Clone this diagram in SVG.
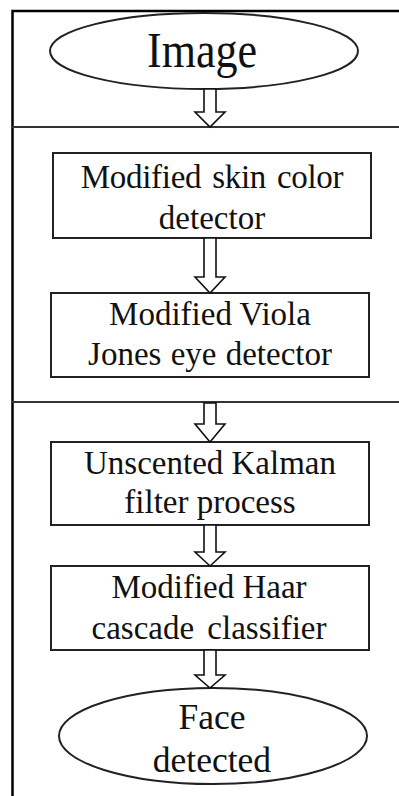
<svg xmlns="http://www.w3.org/2000/svg" width="399" height="796" viewBox="0 0 399 796">
<style>
.frame{fill:none;stroke:#000;stroke-width:2.5}
.sep{fill:none;stroke:#333;stroke-width:2}
.node{fill:#fff;stroke:#222;stroke-width:2}
.arrow{fill:#fff;stroke:#111;stroke-width:1.6;stroke-linejoin:miter}
text{font-family:"Liberation Serif","Times New Roman",serif;fill:#111;text-anchor:middle}
.t{font-size:33px}
.f{font-size:35.5px}
.big{font-size:50px}
</style>
<rect x="0" y="0" width="399" height="796" fill="#fff"/>
<g id="frame">
<path class="frame" d="M12.5,796 V11 H399"/>
<path class="sep" d="M12,127 H399"/>
<path class="sep" d="M12,402 H399"/>
</g>
<g id="image">
<ellipse class="node" cx="204" cy="51" rx="154" ry="38"/>
<text class="big" x="202" y="67" textLength="110" lengthAdjust="spacingAndGlyphs">Image</text>
</g>
<g id="skin">
<rect class="node" x="53" y="153" width="318" height="85"/>
<text class="t" x="212" y="188" word-spacing="3" letter-spacing="-0.3">Modified skin color</text>
<text class="t" x="212" y="229">detector</text>
</g>
<g id="viola">
<rect class="node" x="51" y="293" width="318" height="84"/>
<text class="t" x="210" y="325">Modified Viola</text>
<text class="t" x="210" y="365" word-spacing="1">Jones eye detector</text>
</g>
<g id="kalman">
<rect class="node" x="51" y="442" width="318" height="83"/>
<text class="t" x="210" y="474">Unscented Kalman</text>
<text class="t" x="210" y="513">filter process</text>
</g>
<g id="haar">
<rect class="node" x="51" y="566" width="318" height="84"/>
<text class="t" x="209" y="598">Modified Haar</text>
<text class="t" x="209" y="639" word-spacing="5">cascade classifier</text>
</g>
<g id="face">
<ellipse class="node" cx="213" cy="736" rx="154" ry="48"/>
<text class="f" x="212" y="729">Face</text>
<text class="f" x="212" y="772">detected</text>
</g>
<g id="connectors">
<polygon class="arrow" points="204,89 216,89 216,112 225,112 210,127 195,112 204,112"/>
<polygon class="arrow" points="204,238 216,238 216,277 225,277 210,293 195,277 204,277"/>
<polygon class="arrow" points="204,403 216,403 216,424 225,424 210,442 195,424 204,424"/>
<polygon class="arrow" points="204,525 216,525 216,552 225,552 210,566 195,552 204,552"/>
<polygon class="arrow" points="204,650 216,650 216,675 225,675 210,688 195,675 204,675"/>
</g>
</svg>
